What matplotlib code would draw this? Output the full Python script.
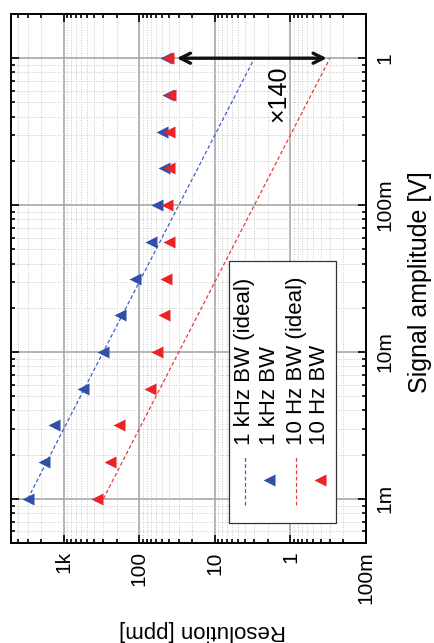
import matplotlib
matplotlib.use("Agg")
import matplotlib.pyplot as plt
from matplotlib.ticker import LogLocator, NullFormatter
from matplotlib.lines import Line2D
from matplotlib.patches import Rectangle

plt.rcParams['font.family'] = ['Liberation Sans', 'DejaVu Sans']

# signal amplitude [V] (quarter-decade steps, 1 V down to 1 mV)
amplitude = [1, 0.562, 0.316, 0.178, 0.1, 0.0562, 0.0316, 0.0178,
             0.01, 0.00562, 0.00316, 0.00178, 0.001]
# measured resolution [ppm]
res_1k = [44.6, 42, 50, 47, 59, 70, 115, 181, 304, 560, 1355, 1840, 3000]
res_10 = [42, 39.5, 40.7, 40.7, 43, 40.7, 44.6, 47, 59, 73, 187, 246, 366]
# ideal (noise limited) resolution
amp_ideal = [0.001, 1]
res_1k_ideal = [3000, 3.0]
res_10_ideal = [300, 0.3]

res_ticks = [1000, 100, 10, 1, 0.1]
res_labels = ['1k', '100', '10', '1', '100m']
amp_ticks = [0.001, 0.01, 0.1, 1]
amp_labels = ['1m', '10m', '100m', '1']

BLUE = '#2f4fa8'
RED = '#ec2228'
BLUE_LN = '#3d5fc8'
RED_LN = '#e83a3a'

fig = plt.figure(figsize=(4.34, 6.43), dpi=100)
ax = fig.add_axes([11/434, 1 - 543/643, 355/434, 529/643])

# chart is drawn rotated: resolution runs right->left, amplitude bottom->top
ax.plot(res_1k_ideal, amp_ideal, color=BLUE_LN, lw=0.9, ls=(0, (3, 2)))
ax.plot(res_10_ideal, amp_ideal, color=RED_LN, lw=0.9, ls=(0, (3, 2)))
ax.plot(res_1k, amplitude, ls='none', marker='<', ms=8, color=BLUE, mec='none')
ax.plot(res_10, amplitude, ls='none', marker='<', ms=8, color=RED, mec='none')

ax.set_xscale('log')
ax.set_yscale('log')
ax.set_xlim(5000, 0.1)
ax.set_ylim(5e-4, 2)

ax.xaxis.set_minor_locator(LogLocator(base=10, subs=range(2, 10), numticks=20))
ax.yaxis.set_minor_locator(LogLocator(base=10, subs=range(2, 10), numticks=20))
ax.xaxis.set_minor_formatter(NullFormatter())
ax.yaxis.set_minor_formatter(NullFormatter())
ax.set_xticks(res_ticks, res_labels, rotation=90, fontsize=15)
ax.set_yticks(amp_ticks, amp_labels, rotation=90, fontsize=15, va='center')

ax.tick_params(which='both', direction='in', top=True, bottom=True,
               left=True, right=True, labelleft=False, labelright=True, width=1.2)
ax.tick_params(which='major', length=5.5)
ax.tick_params(which='minor', length=3)
ax.tick_params(axis='x', pad=6)
ax.tick_params(axis='y', pad=7)

ax.grid(which='major', color='#a8a8a8', lw=1.2)
ax.grid(which='minor', color='#c8c8c8', lw=0.7, ls=':')
ax.set_axisbelow(True)
for s in ax.spines.values():
    s.set_linewidth(1.4)

# ratio arrow at 1 V
ax.annotate('', xy=(0.33, 1), xytext=(32, 1),
            arrowprops=dict(arrowstyle='<->', lw=2.4, color='#111111',
                            mutation_scale=18, shrinkA=0, shrinkB=0))
ax.text(1.47, 0.57, '×140', rotation=90, ha='center', va='center', fontsize=18)

# rotated legend drawn by hand
tr = ax.transAxes
ax.add_patch(Rectangle((0.614, 0.038), 0.301, 0.495, transform=tr,
                       facecolor='white', edgecolor='#333333', lw=0.9, zorder=5))
entries = [('1 kHz BW (ideal)', 'line', BLUE_LN),
           ('1 kHz BW', 'marker', BLUE),
           ('10 Hz BW (ideal)', 'line', RED_LN),
           ('10 Hz BW', 'marker', RED)]
col_x = [0.659, 0.727, 0.803, 0.870]
for (label, kind, col), cx in zip(entries, col_x):
    if kind == 'line':
        ax.add_line(Line2D([cx, cx], [0.072, 0.166], transform=tr, color=col,
                           lw=0.9, ls=(0, (3, 2)), zorder=6))
    else:
        ax.add_line(Line2D([cx], [0.119], transform=tr, ls='none', marker='<',
                           ms=8, color=col, mec='none', zorder=6))
    ax.text(cx, 0.185, label, transform=tr, rotation=90, ha='center',
            va='bottom', fontsize=16, zorder=6)

fig.text(203/434, 1 - 630/643, 'Resolution [ppm]', rotation=180,
         ha='center', va='center', fontsize=16)
fig.text(420/434, 1 - 282/643, 'Signal amplitude [V]', rotation=90,
         ha='center', va='center', fontsize=18)

fig.savefig('out.png', dpi=100)
